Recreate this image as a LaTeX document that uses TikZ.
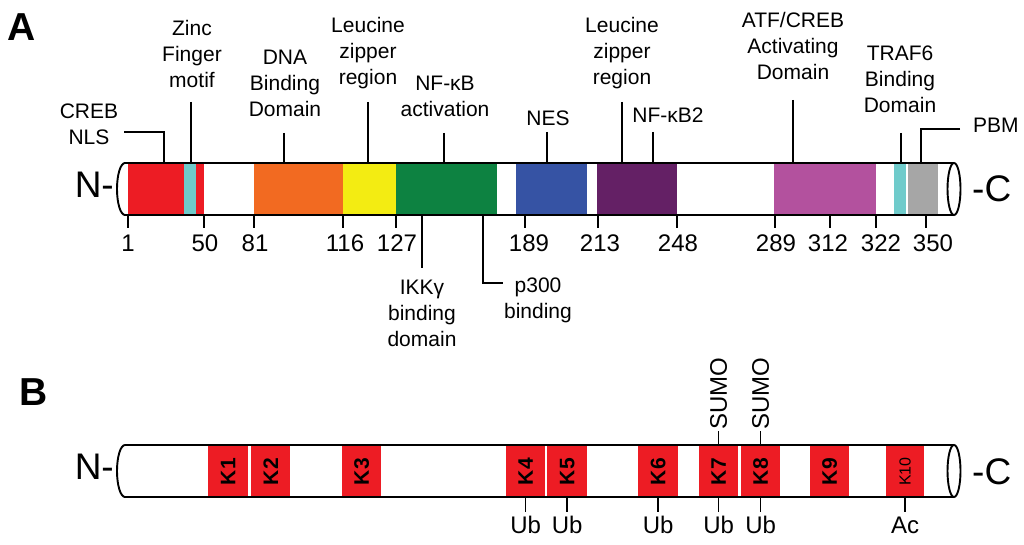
\documentclass[tikz,border=0pt]{standalone}
\usepackage{fontspec}
\setmainfont{Liberation Sans}
\definecolor{cred}{HTML}{ED1C24}
\definecolor{ccyan}{HTML}{6FCBCB}
\definecolor{corange}{HTML}{F26A21}
\definecolor{cyellow}{HTML}{F3EC12}
\definecolor{cgreen}{HTML}{0D8241}
\definecolor{cblue}{HTML}{3653A4}
\definecolor{cpurple}{HTML}{642065}
\definecolor{cmagenta}{HTML}{B3519E}
\definecolor{cgray}{HTML}{A6A6A6}
\begin{document}
\begin{tikzpicture}[x=1pt,y=-1pt,
  lbl/.style={font=\fontsize{21}{26}\selectfont, align=center, inner sep=0pt},
  num/.style={font=\fontsize{24}{28}\selectfont, inner sep=0pt},
  ptm/.style={font=\fontsize{24}{28}\selectfont, inner sep=0pt},
  term/.style={font=\fontsize{37}{40}\selectfont, inner sep=0pt},
  panel/.style={font=\fontsize{39}{42}\selectfont\bfseries, inner sep=0pt},
  ln/.style={line width=1.5pt},
  outl/.style={line width=1.9pt},
  kbox/.style={fill=cred, draw=none, minimum width=39pt, minimum height=51pt, inner sep=0pt,
    font=\fontsize{21}{22}\selectfont\bfseries, anchor=north west}]
\useasboundingbox (0,0) rectangle (1024,545);
% ---------- Panel A ----------
\node[panel] (pa) at (22,27) {A};
% segments
\fill[cred] (128,163) rectangle (204,215);
\fill[ccyan] (184,163) rectangle (196,215);
\fill[corange] (254,163) rectangle (343,215);
\fill[cyellow] (343,163) rectangle (396,215);
\fill[cgreen] (396,163) rectangle (497,215);
\fill[cblue] (516,163) rectangle (587,215);
\fill[cpurple] (597,163) rectangle (677,215);
\fill[cmagenta] (774,163) rectangle (876,215);
\fill[ccyan] (894,163) rectangle (906,215);
\fill[cgray] (908,163) rectangle (938,215);
% cylinder outline
\draw[outl] (125,163) -- (954,163);
\draw[outl] (125,215) -- (954,215);
\draw[outl] (125,163) arc[start angle=270, end angle=90, x radius=8, y radius=26];
\draw[outl] (954,189) ellipse[x radius=6.5, y radius=26];
\node[term, anchor=east] (na) at (114,185) {N-};
\node[term, anchor=west] (ca) at (972,189) {-C};
% ticks and numbers
\foreach \x/\lab/\lx in {128/1/128, 204/50/205, 254/81/255, 343/116/345, 396/127/397,
  525/189/529, 598/213/600, 677/248/678, 775/289/776, 830/312/828, 876/322/881, 926/350/933}{
  \draw[ln] (\x,215) -- (\x,228);
  \node[num] at (\lx,243) {\lab};
}
% top labels
\node[lbl] (creb) at (89,124) {CREB\\NLS};
\draw[ln] (124,132) -- (164,132) -- (164,163);
\node[lbl] (zinc) at (192,54) {Zinc\\Finger\\motif};
\draw[ln] (191,102) -- (191,163);
\node[lbl] (dna) at (285,83) {DNA\\Binding\\Domain};
\draw[ln] (284,133) -- (284,163);
\node[lbl] (leu1) at (368,53) {Leucine\\zipper\\region};
\draw[ln] (368,102) -- (368,163);
\node[lbl] (nfkb) at (445,96) {NF-κB\\activation};
\draw[ln] (444,133) -- (444,163);
\node[lbl] (nes) at (548,118) {NES};
\draw[ln] (547,132) -- (547,163);
\node[lbl] (leu2) at (622,53) {Leucine\\zipper\\region};
\draw[ln] (622,102) -- (622,163);
\node[lbl] (nfkb2) at (668,115) {NF-κB2};
\draw[ln] (653,132) -- (653,163);
\node[lbl] (atf) at (793,46) {ATF/CREB\\Activating\\Domain};
\draw[ln] (793,100) -- (793,163);
\node[lbl] (traf) at (900,79) {TRAF6\\Binding\\Domain};
\draw[ln] (901,133) -- (901,163);
\node[lbl, anchor=west] (pbm) at (973,125) {PBM};
\draw[ln] (960,129) -- (921,129) -- (921,163);
% bottom labels
\node[lbl] (ikk) at (422,313) {IKKγ\\binding\\domain};
\draw[ln] (422,215) -- (422,268);
\node[lbl] (p300) at (538,300) {p300\\binding};
\draw[ln] (483,215) -- (483,283) -- (503,283);
% ---------- Panel B ----------
\node[panel] (pb) at (34,392) {B};
\foreach \n/\x/\w in {1/208/40, 2/251/39, 3/342/39, 4/506/39, 5/547/40, 6/638/40, 7/699/39, 8/741/39, 9/810/39}{
  \node[kbox, minimum width=\w pt] (k\n) at (\x,446) {\rotatebox{90}{K\n}};
}
\node[kbox, minimum width=38pt, font=\fontsize{16}{17}\selectfont] (k10) at (886,446) {\rotatebox{90}{K10}};
\draw[outl] (125,445) -- (954,445);
\draw[outl] (125,497) -- (954,497);
\draw[outl] (125,445) arc[start angle=270, end angle=90, x radius=8, y radius=26];
\draw[outl] (954,471) ellipse[x radius=6.5, y radius=26];
\node[term, anchor=east] (nb) at (114,467) {N-};
\node[term, anchor=west] (cb) at (972,472) {-C};
\foreach \k in {4,5,6,7,8}{
  \draw[ln] (k\k.south) -- ++(0,15) coordinate (u\k);
  \node[ptm] (ub\k) at ([yshift=-13pt]u\k) {Ub};
}
\draw[ln] (k10.south) -- ++(0,15) coordinate (u10);
\node[ptm] (ac) at ([yshift=-13pt]u10) {Ac};
\foreach \k in {7,8}{
  \draw[ln] (k\k.north) -- ++(0,-15) coordinate (s\k);
  \node[ptm, rotate=90, anchor=west, inner sep=1pt] (sumo\k) at (s\k) {SUMO};
}
\end{tikzpicture}
\end{document}
